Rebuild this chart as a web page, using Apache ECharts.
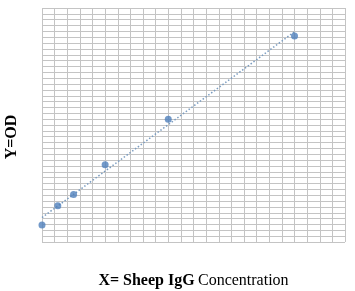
<!DOCTYPE html>
<html>
<head>
<meta charset="utf-8">
<script src="https://cdn.jsdelivr.net/npm/echarts@6/dist/echarts.min.js"></script>
<style>
  html, body { margin: 0; padding: 0; background: #fff; }
</style>
</head>
<body>
<div id="chart" style="width:355px;height:291px"></div>
<script>
// standard concentrations (grid units) and OD readings
const conc = [0, 1.25, 2.5, 5, 10, 20]
const od = [2.9, 6.2, 8.1, 13.2, 21.0, 35.2]
const xMax = 24
const yMax = 40

// linear trendline through the points
function fitLine (xs, ys) {
  const n = xs.length
  const mx = xs.reduce((a, b) => a + b, 0) / n
  const my = ys.reduce((a, b) => a + b, 0) / n
  let sxy = 0
  let sxx = 0
  for (let i = 0; i < n; i++) {
    sxy += (xs[i] - mx) * (ys[i] - my)
    sxx += (xs[i] - mx) * (xs[i] - mx)
  }
  const k = sxy / sxx
  return [k, my - k * mx]
}
const [k, b] = fitLine(conc, od)
const trend = [[conc[0], k * conc[0] + b], [conc[conc.length - 1], k * conc[conc.length - 1] + b]]

const chart = echarts.init(document.getElementById('chart'))
const option = {
  animation: false,
  grid: { left: 42, right: 10, top: 8, bottom: 49, outerBoundsMode: 'none' },
  xAxis: {
    type: 'value',
    min: 0,
    max: xMax,
    interval: 1,
    axisLine: { show: false },
    axisTick: { show: false },
    axisLabel: { show: false },
    splitLine: { show: true, lineStyle: { color: '#c4c4c4', width: 1 } },
    name: '{b|X= Sheep IgG} {n|Concentration}',
    nameLocation: 'middle',
    nameGap: 31,
    nameTextStyle: {
      rich: {
        b: { fontFamily: 'Liberation Serif', fontWeight: 'bold', fontSize: 16, color: '#000' },
        n: { fontFamily: 'Liberation Serif', fontSize: 16, color: '#000' }
      }
    }
  },
  yAxis: {
    type: 'value',
    min: 0,
    max: yMax,
    interval: 1,
    axisLine: { show: false },
    axisTick: { show: false },
    axisLabel: { show: false },
    splitLine: { show: true, lineStyle: { color: '#c4c4c4', width: 1 } },
    name: 'Y=OD',
    nameLocation: 'middle',
    nameGap: 22,
    nameTextStyle: {
      fontFamily: 'Liberation Serif',
      fontWeight: 'bold',
      fontSize: 16,
      color: '#000',
      padding: [0, 24, 0, 0]
    }
  },
  series: [
    {
      type: 'line',
      data: trend,
      symbol: 'none',
      lineStyle: { color: '#7a9cc0', width: 1.5, type: [1.5, 2] },
      z: 2
    },
    {
      type: 'scatter',
      data: conc.map((x, i) => [x, od[i]]),
      symbolSize: 7,
      itemStyle: { color: '#4f7fbb' },
      z: 3
    }
  ]
}
chart.setOption(option)
</script>
</body>
</html>
